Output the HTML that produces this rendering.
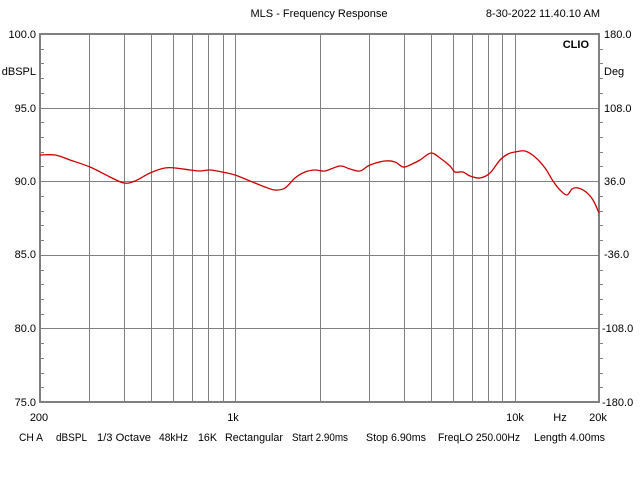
<!DOCTYPE html><html><head><style>body{margin:0;background:#fff}svg{display:block}text{font-family:"Liberation Sans",Arial,sans-serif;font-size:11px;fill:#000}</style></head><body>
<svg id="s" width="640" height="480" xmlns="http://www.w3.org/2000/svg">
<rect width="640" height="480" fill="#fff"/>
<g id="g"></g>
<text x="319" y="17" text-anchor="middle">MLS - Frequency Response</text>
<text x="600" y="17" text-anchor="end">8-30-2022 11.40.10 AM</text>
<text x="589" y="48" text-anchor="end" font-weight="bold">CLIO</text>
<text x="36" y="38" text-anchor="end">100.0</text>
<text x="36" y="75" text-anchor="end">dBSPL</text>
<text x="36" y="112" text-anchor="end">95.0</text>
<text x="36" y="185" text-anchor="end">90.0</text>
<text x="36" y="258" text-anchor="end">85.0</text>
<text x="36" y="332" text-anchor="end">80.0</text>
<text x="36" y="406" text-anchor="end">75.0</text>
<text x="604" y="38">180.0</text>
<text x="604" y="75">Deg</text>
<text x="604" y="112">108.0</text>
<text x="604" y="185">36.0</text>
<text x="604" y="258">-36.0</text>
<text x="602" y="332">-108.0</text>
<text x="602" y="406">-180.0</text>
<text x="39" y="421" text-anchor="middle">200</text>
<text x="233" y="421" text-anchor="middle">1k</text>
<text x="515" y="421" text-anchor="middle">10k</text>
<text x="560" y="421" text-anchor="middle">Hz</text>
<text x="598" y="421" text-anchor="middle">20k</text>
<g transform="translate(0,441)">
<text x="19" textLength="24" lengthAdjust="spacingAndGlyphs">CH A</text>
<text x="56" textLength="31" lengthAdjust="spacingAndGlyphs">dBSPL</text>
<text x="97" textLength="54" lengthAdjust="spacingAndGlyphs">1/3 Octave</text>
<text x="159" textLength="29" lengthAdjust="spacingAndGlyphs">48kHz</text>
<text x="198" textLength="19" lengthAdjust="spacingAndGlyphs">16K</text>
<text x="225" textLength="58" lengthAdjust="spacingAndGlyphs">Rectangular</text>
<text x="292" textLength="56" lengthAdjust="spacingAndGlyphs">Start 2.90ms</text>
<text x="366" textLength="60" lengthAdjust="spacingAndGlyphs">Stop 6.90ms</text>
<text x="438" textLength="82" lengthAdjust="spacingAndGlyphs">FreqLO 250.00Hz</text>
<text x="534" textLength="71" lengthAdjust="spacingAndGlyphs">Length 4.00ms</text>
</g>
</svg>
<script>
var g=document.getElementById('g'),L=40,R=599,T=34,B=402,h='';
function X(f){return L+279.5*Math.log10(f/200);}
var fs=[300,400,500,600,700,800,900,1000,2000,3000,4000,5000,6000,7000,8000,9000,10000];
fs.forEach(function(f){var x=Math.round(X(f))+.5;h+='<line x1="'+x+'" y1="'+T+'" x2="'+x+'" y2="'+B+'" stroke="#808080"/>';});
[95,90,85,80].forEach(function(d){var y=Math.round(T+(100-d)*14.72)+.5;h+='<line x1="'+L+'" y1="'+y+'" x2="'+R+'" y2="'+y+'" stroke="#808080"/>';});
for(var d=99;d>75;d--){if(d%5==0)continue;var y=Math.round(T+(100-d)*14.72)+.5;h+='<line x1="'+L+'" y1="'+y+'" x2="'+(L+4)+'" y2="'+y+'" stroke="#808080"/><line x1="'+R+'" y1="'+y+'" x2="'+(R+4)+'" y2="'+y+'" stroke="#808080"/>';}
h+='<rect x="'+L+'" y="'+T+'" width="'+(R-L)+'" height="'+(B-T)+'" fill="none" stroke="#808080" stroke-width="2"/>';
var p=[[40,155],[55,155],[70,160],[90,167],[110,177],[124,183],[135,181],[150,173],[165,168],[175,168],[190,170],[200,171],[210,170],[222,172],[235,175],[250,181],[265,187],[275,190],[285,188],[295,178],[305,172],[315,170],[325,171],[340,166],[350,169],[360,171],[370,165],[385,161],[395,162],[403,167],[410,165],[420,160],[431,153],[440,158],[450,166],[455,172],[463,172],[470,176],[480,178],[490,173],[500,160],[508,154],[515,152],[525,151],[535,157],[545,168],[553,181],[560,190],[567,195],[572,189],[578,188],[586,192],[593,200],[599,213]];
var d='M'+p[0][0]+','+p[0][1];
for(var i=0;i<p.length-1;i++){var p0=p[Math.max(i-1,0)],p1=p[i],p2=p[i+1],p3=p[Math.min(i+2,p.length-1)];
d+=' C'+(p1[0]+(p2[0]-p0[0])/6).toFixed(1)+','+(p1[1]+(p2[1]-p0[1])/6).toFixed(1)+' '+(p2[0]-(p3[0]-p1[0])/6).toFixed(1)+','+(p2[1]-(p3[1]-p1[1])/6).toFixed(1)+' '+p2[0]+','+p2[1];}
h+='<path fill="none" stroke="#cc0000" stroke-width="1.3" d="'+d+'"/>';
g.innerHTML=h;
</script></body></html>
